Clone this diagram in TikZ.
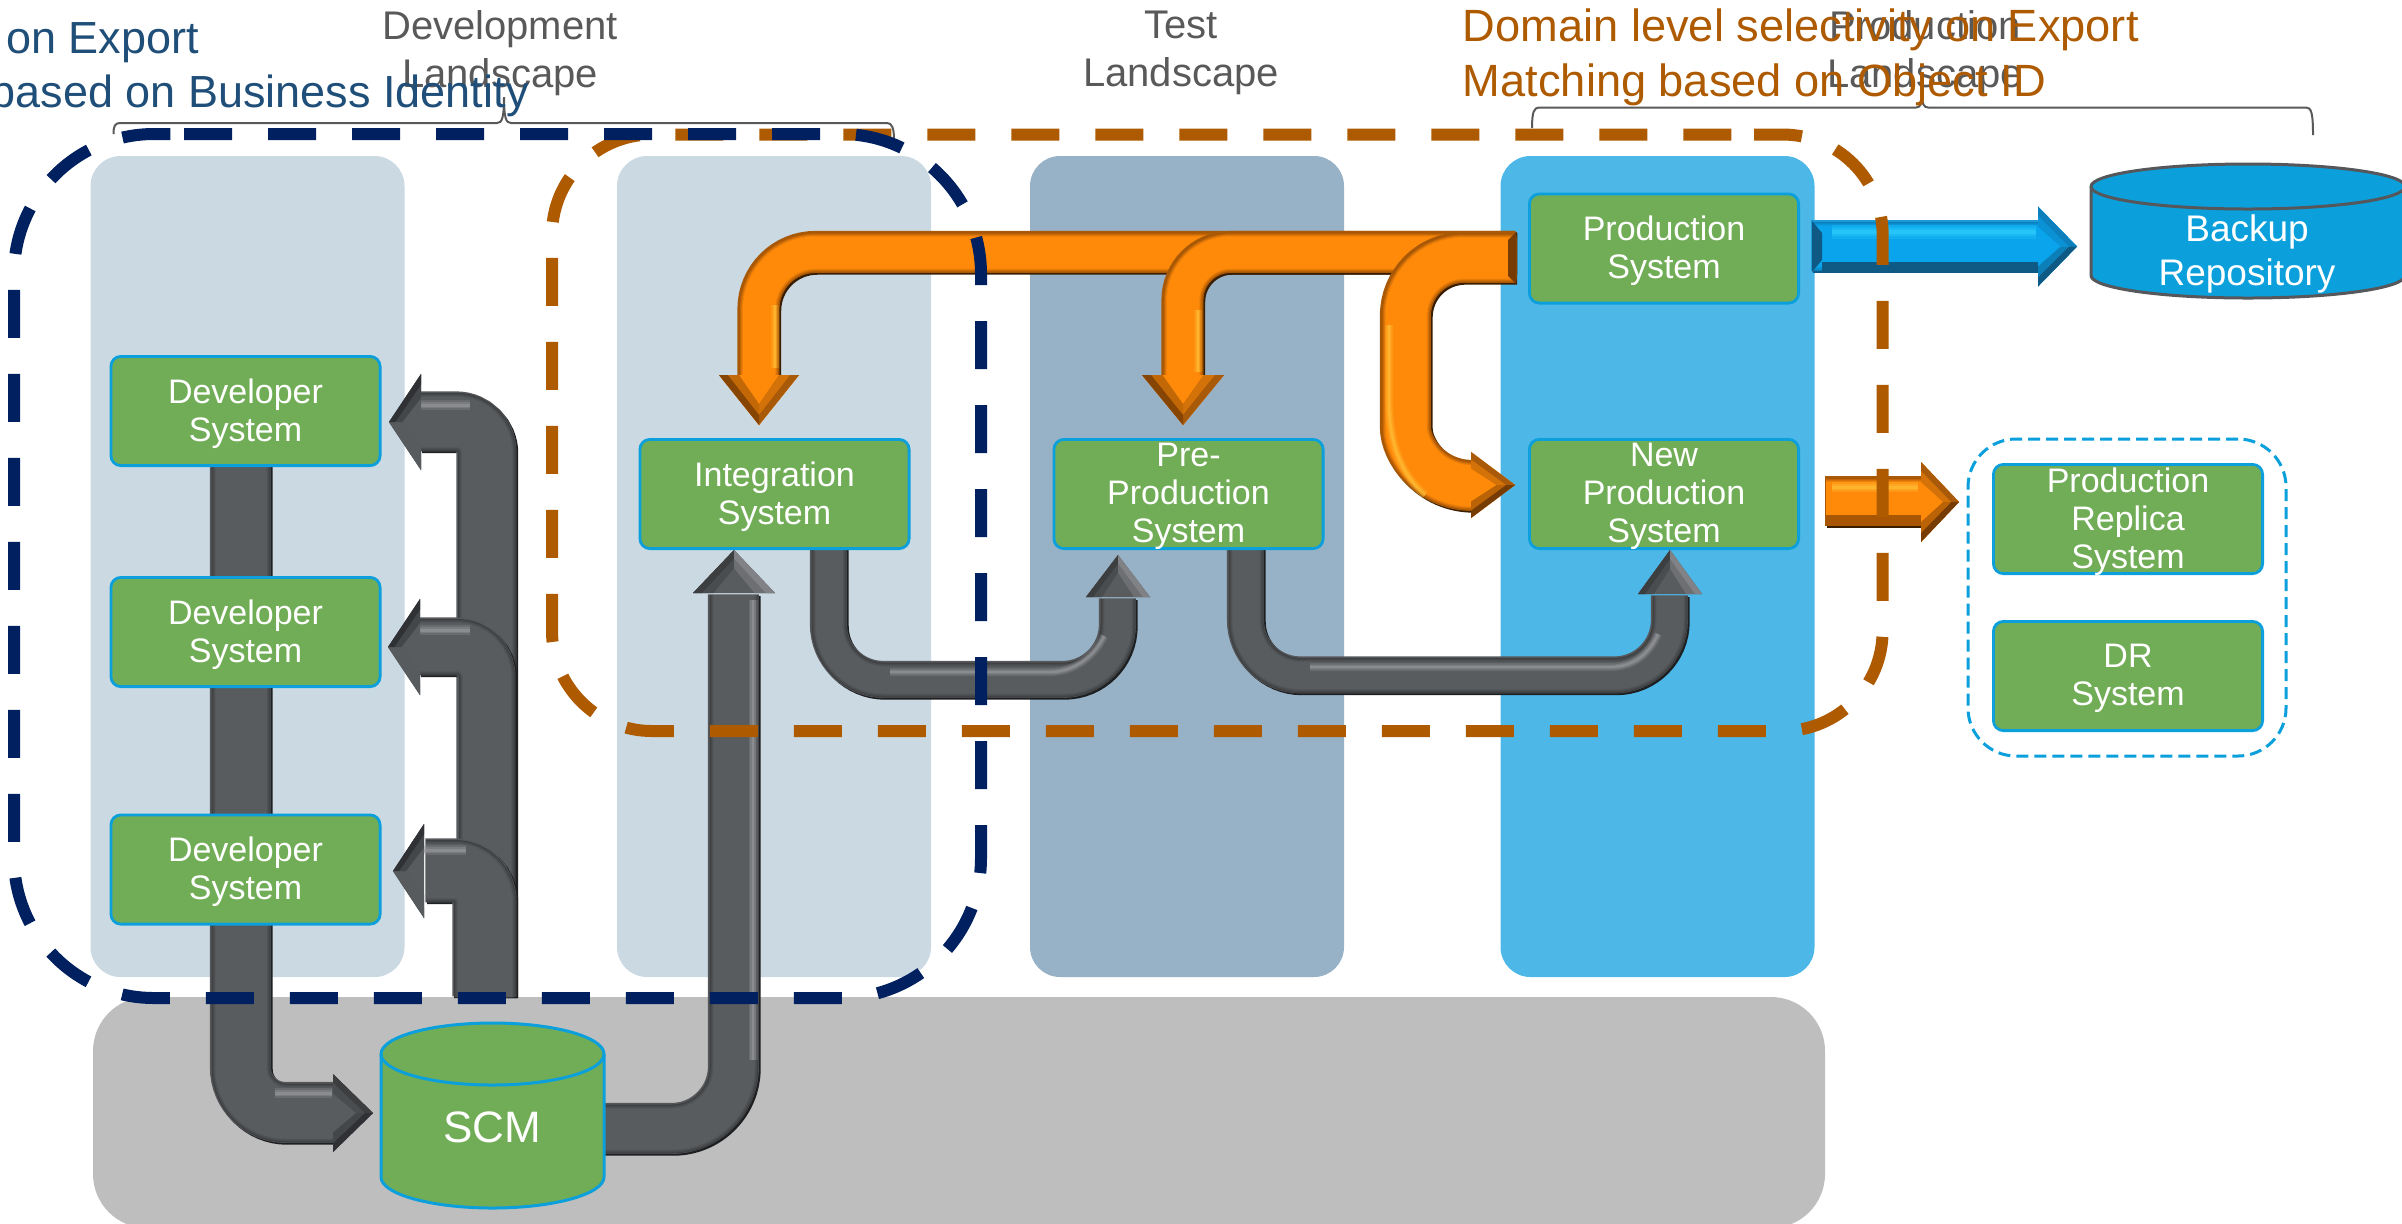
\documentclass[tikz,border=0pt]{standalone}
\usepackage{fontspec}
\setmainfont{Liberation Sans}
\definecolor{panelA}{HTML}{CBD9E3}
\definecolor{panelB}{HTML}{97B2C6}
\definecolor{panelC}{HTML}{4DB7E8}
\definecolor{baseGray}{HTML}{BEBEBE}
\definecolor{boxGreen}{HTML}{71AD56}
\definecolor{skyBlue}{HTML}{0B9FDC}
\definecolor{navyDash}{HTML}{002060}
\definecolor{rustDash}{HTML}{AE5A00}
\definecolor{titleBlue}{HTML}{1F4E79}
\definecolor{labelGray}{HTML}{595959}
\definecolor{gDark}{HTML}{1E1F21}
\definecolor{gLight}{HTML}{55575A}
\definecolor{gMix}{HTML}{3C3E40}
\definecolor{gMain}{HTML}{595C5F}
\definecolor{gGlow}{HTML}{9A9CA0}
\definecolor{oDark}{HTML}{3A1E00}
\definecolor{oLight}{HTML}{A85A08}
\definecolor{oMix}{HTML}{A85604}
\definecolor{oMain}{HTML}{FF8A0A}
\definecolor{oGlow}{HTML}{FFC23A}
\definecolor{bDark}{HTML}{0F5A85}
\definecolor{bLight}{HTML}{1A9BD8}
\definecolor{bMix}{HTML}{0C7FBC}
\definecolor{bMain}{HTML}{09A4EC}
\definecolor{bGlow}{HTML}{2FD0FF}
\tikzset{
  x=0.5pt,y=-0.5pt,
  panel/.style={rectangle,rounded corners=15pt,inner sep=0pt,minimum height=410.5pt,minimum width=157pt},
  sysbox/.style={rectangle,rounded corners=5pt,draw=skyBlue,line width=1.4pt,fill=boxGreen,text=white,
    inner sep=0pt,minimum width=134.6pt,minimum height=54.6pt,align=center,text depth=1.3pt,font=\fontsize{17pt}{19pt}\selectfont},
  landlabel/.style={text=labelGray,align=center,inner sep=0pt,font=\fontsize{20pt}{24pt}\selectfont},
  bluetitle/.style={text=titleBlue,inner sep=0pt,font=\fontsize{22.5pt}{27pt}\selectfont},
  rusttitle/.style={text=rustDash,inner sep=0pt,font=\fontsize{22.6pt}{27pt}\selectfont},
  bracket/.style={draw=labelGray,line width=1pt},
  bigdash/.style={line width=6pt,dash pattern=on 24pt off 18pt},
}
\newcommand{\pipe}[4]{%
  \draw[draw=#1Dark,line width=#2*0.5pt,rounded corners=#3*0.5pt,transform canvas={shift={(1.2,1.2)}}] #4;
  \draw[draw=#1Light,line width=#2*0.5pt,rounded corners=#3*0.5pt,transform canvas={shift={(-0.6,-0.6)}}] #4;
  \draw[draw=#1Mix,line width=(#2-2)*0.5pt,rounded corners=#3*0.5pt] #4;
  \draw[draw=#1Mix!70!#1Main,line width=(#2-4)*0.5pt,rounded corners=#3*0.5pt] #4;
  \draw[draw=#1Mix!45!#1Main,line width=(#2-6)*0.5pt,rounded corners=#3*0.5pt] #4;
  \draw[draw=#1Mix!20!#1Main,line width=(#2-8)*0.5pt,rounded corners=#3*0.5pt] #4;
  \draw[draw=#1Main,line width=(#2-10)*0.5pt,rounded corners=#3*0.5pt] #4;
}
\newcommand{\glow}[3]{%
  \draw[draw=#1,line width=#2*0.5pt,opacity=0.25] #3;
  \draw[draw=#1,line width=#2*0.3pt,opacity=0.35] #3;
  \draw[draw=#1,line width=#2*0.15pt,opacity=0.5] #3;
}
\newcommand{\pipehead}[7]{%
  \begin{scope}[shift={(#1)},rotate=#2]
    \fill[#7] (0,0)--(-#3,-#4)--(-#3,#4)--cycle;
    \fill[#5!50!#7] (0,0)--(-#3,-#4)--(-#3,-#4*.5)--(-#3*.42,0)--cycle;
    \fill[#6!50!#7] (0,0)--(-#3,#4)--(-#3,#4*.5)--(-#3*.42,0)--cycle;
    \fill[#5] (0,0)--(-#3,-#4)--(-#3,-#4*.78)--(-#3*.2,0)--cycle;
    \fill[#6] (0,0)--(-#3,#4)--(-#3,#4*.78)--(-#3*.2,0)--cycle;
  \end{scope}
}
\begin{document}
\begin{tikzpicture}
\useasboundingbox (0,0) rectangle (2402,1223);
\clip (0,0) rectangle (2402,1223);

% landscapes
\node[panel,fill=baseGray,minimum width=866pt,minimum height=115.5pt,rounded corners=27pt] (base) at (959,1112.5) {};
\node[panel,fill=panelA] (devpanel) at (247.5,566.5) {};
\node[panel,fill=panelA] (intpanel) at (774,566.5) {};
\node[panel,fill=panelB] (testpanel) at (1187,566.5) {};
\node[panel,fill=panelC] (prodpanel) at (1657.5,566.5) {};

% brackets and landscape labels
\draw[bracket] (113.5,134) .. controls (113.5,126) and (115,123) .. (120,123) -- (497,123)
  .. controls (502,123) and (504,118) .. (504,97) .. controls (504,118) and (506,123) .. (511,123)
  -- (887,123) .. controls (892,123) and (894,128) .. (894,140);
\draw[bracket] (1532,128) .. controls (1532,112) and (1534,107.5) .. (1539,107.5) -- (1916,107.5)
  .. controls (1920,107.5) and (1922,104) .. (1922,96) .. controls (1922,104) and (1924,107.5) .. (1928,107.5)
  -- (2306,107.5) .. controls (2311,107.5) and (2313,112) .. (2313,135);
\node[landlabel] (devlabel) at (500,53) {Development\\Landscape};
\node[landlabel] (testlabel) at (1181,53) {Test\\Landscape};
\node[landlabel] (prodlabel) at (1925,53) {Production\\Landscape};

% named connector ends
\coordinate (aS) at (241,460);  \coordinate (aM) at (241,1113); \coordinate (aE) at (335,1113); \coordinate (aT) at (373,1113);
\coordinate (bS) at (487,997);  \coordinate (bX) at (485,997);
\coordinate (b1M) at (487,422); \coordinate (b1E) at (421,422); \coordinate (b1T) at (389,422);
\coordinate (b2M) at (487,647); \coordinate (b2E) at (420,647); \coordinate (b2T) at (388,647);
\coordinate (b3M) at (485,871); \coordinate (b3E) at (426,871); \coordinate (b3T) at (393,871);
\coordinate (cS) at (600,1129); \coordinate (cM) at (734,1129); \coordinate (cE) at (734,595); \coordinate (cT) at (734,550);
\coordinate (dS) at (829,545);  \coordinate (dM) at (829,680);  \coordinate (dN) at (1118,680); \coordinate (dE) at (1118,599); \coordinate (dT) at (1118,555);
\coordinate (eS) at (1246,545); \coordinate (eM) at (1246,675.5); \coordinate (eN) at (1670,675.5); \coordinate (eE) at (1670,596); \coordinate (eT) at (1670,550);
\coordinate (fS) at (1516,252.5); \coordinate (fM) at (759,252.5); \coordinate (fE) at (759,377); \coordinate (fT) at (759,425);
\coordinate (gM) at (1183,252.5); \coordinate (gE) at (1183,377); \coordinate (gT) at (1183,425);
\coordinate (hS) at (1516,258); \coordinate (hM) at (1406,258); \coordinate (hN) at (1406,370); \coordinate (hE) at (1473,486); \coordinate (hT) at (1515,485);
\coordinate (iS) at (1826,502); \coordinate (iE) at (1922,502); \coordinate (iT) at (1959,502);
\coordinate (jS) at (1812,246.5); \coordinate (jE) at (2040,246.5); \coordinate (jT) at (2077,246.5);

% gray pipes
\pipe{g}{61}{45}{(aS) -- (aM) -- (aE)}
\glow{gGlow}{10}{(275,1093) -- (332,1093)}
\pipehead{aT}{0}{40}{39}{gMix}{gDark!70!gMain}{gMain}

\pipe{g}{60}{30}{(bS) -- (b1M) -- (b1E)}
\glow{gGlow}{10}{(416,405) -- (470,405)}
\pipehead{b1T}{180}{32}{48}{gMain!70!gLight}{gDark!70!gMain}{gMain}
\pipe{g}{58}{30}{(bS) -- (b2M) -- (b2E)}
\glow{gGlow}{10}{(416,630) -- (470,630)}
\pipehead{b2T}{180}{32}{48}{gMain!70!gLight}{gDark!70!gMain}{gMain}
\pipe{g}{64}{30}{(bX) -- (b3M) -- (b3E)}
\glow{gGlow}{10}{(424,850) -- (466,850)}
\pipehead{b3T}{180}{31}{47}{gMain!70!gLight}{gDark!70!gMain}{gMain}

\pipe{g}{51}{62}{(cS) -- (cM) -- (cE)}
\glow{gGlow}{9}{(753,600) -- (753,1060)}
\pipehead{cT}{90}{43}{41}{gMix}{gGlow!60!gMain}{gMain}

\pipe{g}{37}{55}{(dS) -- (dM) -- (dN) -- (dE)}
\glow{gGlow}{8}{(890,672) -- (1050,672) .. controls (1075,672) and (1095,655) .. (1104,636)}
\pipehead{dT}{90}{42}{32}{gMix}{gGlow!60!gMain}{gMain}

\pipe{g}{37}{55}{(eS) -- (eM) -- (eN) -- (eE)}
\glow{gGlow}{8}{(1310,667) -- (1610,667) .. controls (1635,667) and (1650,652) .. (1658,634)}
\pipehead{eT}{90}{44}{32}{gMix}{gGlow!60!gMain}{gMain}

% orange pipes
\pipe{o}{42}{57}{(fS) -- (fM) -- (fE)}
\glow{oGlow}{8}{(775,305) -- (775,368)}
\pipehead{fT}{-90}{50}{40}{oLight}{oMix!80!black}{oMain}
\pipe{o}{42}{48}{(fS) -- (gM) -- (gE)}
\glow{oGlow}{8}{(1198,310) -- (1198,372)}
\pipehead{gT}{-90}{50}{41}{oLight}{oMix!80!black}{oMain}
\pipe{o}{51}{58}{(hS) -- (hM) -- (hN) .. controls (1406,450) and (1430,486) .. (hE)}
\glow{oGlow}{8}{(1389,325) -- (1389,400) .. controls (1389,445) and (1402,475) .. (1425,495)}
\fill[oMix!70!black] (1508,240) -- (1516,232) -- (1516,284) -- (1508,276) -- cycle;
\pipehead{hT}{0}{44}{33}{oLight}{oMix!70!black}{oMain}

\pipe{o}{50}{0}{(iS) -- (iE)}
\glow{oGlow}{10}{(1832,487) -- (1918,487)}
\fill[oMix] (1826,515) rectangle (1922,526);
\pipehead{iT}{0}{38}{40}{oLight}{oMix!70!black}{oMain}

\pipe{b}{51}{0}{(jS) -- (jE)}
\glow{bGlow}{14}{(1832,232) -- (2036,232)}
\fill[bDark] (1822,262) rectangle (2038,272);
\fill[bDark] (1812,221) -- (1822,233) -- (1822,260) -- (1812,272) -- cycle;
\pipehead{jT}{0}{39}{40}{bMix}{bDark}{bMain}

% systems
\node[sysbox] (dev1) at (245.5,411) {Developer\\System};
\node[sysbox] (dev2) at (245.5,632) {Developer\\System};
\node[sysbox] (dev3) at (245.5,869.5) {Developer\\System};
\node[sysbox] (intsys) at (774.5,494) {Integration\\System};
\node[sysbox] (preprod) at (1188.5,494) {Pre-\\Production\\System};
\node[sysbox] (prodsys) at (1664,248.5) {Production\\System};
\node[sysbox] (newprod) at (1664,494) {New\\Production\\System};
\node[sysbox] (replica) at (2128,519) {Production\\Replica\\System};
\node[sysbox] (drsys) at (2128,676) {DR\\System};
\node[rectangle,rounded corners=24pt,draw=skyBlue,line width=1.5pt,dash pattern=on 6pt off 3pt,
  inner sep=0pt,minimum width=159pt,minimum height=158.5pt] (drgroup) at (2127,597.5) {};

% repositories
\draw[draw=skyBlue,line width=1.5pt,fill=boxGreen]
  (381,1054) -- (381,1177) .. controls (381,1194) and (431,1208) .. (492.5,1208)
  .. controls (554,1208) and (604,1194) .. (604,1177) -- (604,1054)
  .. controls (604,1037) and (554,1023) .. (492.5,1023) .. controls (431,1023) and (381,1037) .. (381,1054) -- cycle;
\draw[draw=skyBlue,line width=1.5pt] (381,1054) .. controls (381,1071) and (431,1085) .. (492.5,1085)
  .. controls (554,1085) and (604,1071) .. (604,1054);
\node[text=white,inner sep=0pt,font=\fontsize{22pt}{26pt}\selectfont] (scm) at (492,1127) {SCM};

\draw[draw=gLight,line width=1.5pt,fill=skyBlue]
  (2091,186.5) -- (2091,275.5) .. controls (2091,288) and (2161,298) .. (2248,298)
  .. controls (2335,298) and (2405,288) .. (2405,275.5) -- (2405,186.5)
  .. controls (2405,174) and (2335,164) .. (2248,164) .. controls (2161,164) and (2091,174) .. (2091,186.5) -- cycle;
\draw[draw=gLight,line width=1.5pt] (2091,186.5) .. controls (2091,199) and (2161,209) .. (2248,209)
  .. controls (2335,209) and (2405,199) .. (2405,186.5);
\node[text=white,inner sep=0pt,align=center,font=\fontsize{18.5pt}{22pt}\selectfont] (backup) at (2247,254) {Backup\\Repository};

% scope outlines
\draw[draw=rustDash,bigdash,rounded corners=50pt] (1754,134.5) -- (1882.6,134.5) -- (1882.6,731) -- (552,731) -- (552,134.5) -- (1754,134.5);
\draw[draw=navyDash,bigdash,rounded corners=70pt] (184,134) -- (981,134) -- (981,998) -- (14,998) -- (14,134) -- (184,134);

% titles
\node[bluetitle,anchor=base west] (bluetop) at (6,53) {on Export};
\node[bluetitle,anchor=base east] (bluelow) at (529,107) {based on Business Identity};
\node[rusttitle,anchor=base west] (rusttop) at (1462.5,41) {Domain level selectivity on Export};
\node[rusttitle,anchor=base west] (rustlow) at (1462.5,96) {Matching based on Object ID};
\end{tikzpicture}
\end{document}
